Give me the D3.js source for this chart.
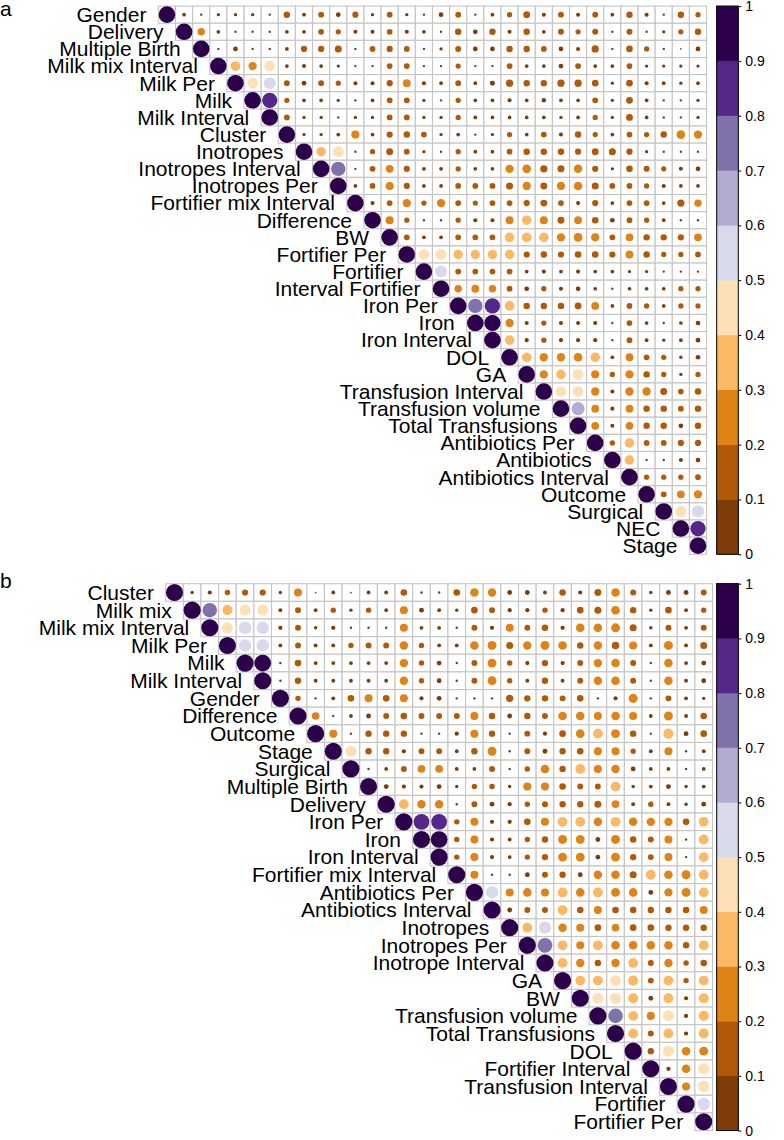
<!DOCTYPE html>
<html>
<head>
<meta charset="utf-8">
<title>Correlation plots</title>
<script src="https://cdnjs.cloudflare.com/ajax/libs/d3/7.8.5/d3.min.js"></script>
<style>
  body { margin: 0; background: #fff; }
  text { font-family: "Liberation Sans", Arial, Helvetica, sans-serif; fill: #000; }
</style>
</head>
<body>
<div id="chart"></div>
<script>
// variables of panel a, in plotted order
var varsA = ["Gender", "Delivery", "Multiple Birth", "Milk mix Interval", "Milk Per", "Milk",
  "Milk Interval", "Cluster", "Inotropes", "Inotropes Interval", "Inotropes Per",
  "Fortifier mix Interval", "Difference", "BW", "Fortifier Per", "Fortifier",
  "Interval Fortifier", "Iron Per", "Iron", "Iron Interval", "DOL", "GA",
  "Transfusion Interval", "Transfusion volume", "Total Transfusions", "Antibiotics Per",
  "Antibiotics", "Antibiotics Interval", "Outcome", "Surgical", "NEC", "Stage"];

// upper triangle of panel a: row i holds |r| for columns i+1 .. end (diagonal = 1)
var corrA = [
  [0.05, 0.02, 0.04, 0.04, 0.04, 0.02, 0.15, 0.05, 0.12, 0.08, 0.14, 0.04, 0.12, 0.04, 0.02, 0.08, 0.12, 0.02, 0.05, 0.10, 0.17, 0.06, 0.12, 0.06, 0.12, 0.05, 0.15, 0.06, 0.02, 0.15, 0.10],
  [0.20, 0.05, 0.02, 0.02, 0.02, 0.05, 0.05, 0.12, 0.10, 0.06, 0.06, 0.12, 0.06, 0.05, 0.02, 0.15, 0.08, 0.15, 0.06, 0.15, 0.05, 0.13, 0.10, 0.13, 0.02, 0.13, 0.02, 0.04, 0.10, 0.15],
  [0.02, 0.08, 0.02, 0.02, 0.05, 0.14, 0.14, 0.18, 0.02, 0.12, 0.14, 0.12, 0.02, 0.04, 0.13, 0.08, 0.08, 0.15, 0.15, 0.12, 0.08, 0.06, 0.19, 0.02, 0.16, 0.10, 0.02, 0.01, 0.08],
  [0.35, 0.25, 0.42, 0.05, 0.06, 0.05, 0.04, 0.02, 0.02, 0.12, 0.12, 0.02, 0.02, 0.10, 0.02, 0.02, 0.12, 0.05, 0.05, 0.08, 0.12, 0.05, 0.05, 0.12, 0.04, 0.04, 0.04, 0.04],
  [0.42, 0.53, 0.12, 0.08, 0.12, 0.10, 0.06, 0.06, 0.14, 0.22, 0.06, 0.05, 0.12, 0.05, 0.09, 0.19, 0.15, 0.15, 0.19, 0.19, 0.16, 0.04, 0.16, 0.06, 0.05, 0.04, 0.05],
  [0.85, 0.10, 0.05, 0.05, 0.04, 0.02, 0.05, 0.12, 0.12, 0.04, 0.02, 0.10, 0.05, 0.05, 0.06, 0.05, 0.07, 0.05, 0.05, 0.12, 0.04, 0.17, 0.05, 0.02, 0.02, 0.04],
  [0.12, 0.04, 0.04, 0.02, 0.04, 0.04, 0.12, 0.12, 0.04, 0.04, 0.10, 0.05, 0.05, 0.05, 0.05, 0.05, 0.04, 0.05, 0.10, 0.04, 0.17, 0.05, 0.02, 0.02, 0.04],
  [0.04, 0.04, 0.05, 0.24, 0.05, 0.14, 0.15, 0.12, 0.04, 0.05, 0.02, 0.04, 0.10, 0.05, 0.12, 0.06, 0.15, 0.10, 0.05, 0.12, 0.10, 0.15, 0.27, 0.25],
  [0.33, 0.42, 0.02, 0.10, 0.17, 0.12, 0.04, 0.02, 0.10, 0.05, 0.05, 0.12, 0.15, 0.15, 0.15, 0.14, 0.17, 0.18, 0.14, 0.04, 0.02, 0.02, 0.02],
  [0.75, 0.02, 0.12, 0.22, 0.14, 0.05, 0.05, 0.10, 0.05, 0.05, 0.25, 0.27, 0.19, 0.18, 0.26, 0.14, 0.04, 0.16, 0.13, 0.10, 0.06, 0.08],
  [0.05, 0.12, 0.24, 0.14, 0.05, 0.05, 0.12, 0.12, 0.12, 0.18, 0.25, 0.17, 0.25, 0.27, 0.18, 0.12, 0.12, 0.10, 0.06, 0.05, 0.05],
  [0.06, 0.12, 0.25, 0.10, 0.25, 0.12, 0.10, 0.12, 0.12, 0.14, 0.17, 0.12, 0.06, 0.14, 0.05, 0.12, 0.12, 0.05, 0.19, 0.20],
  [0.24, 0.10, 0.02, 0.02, 0.10, 0.06, 0.06, 0.23, 0.33, 0.23, 0.17, 0.22, 0.16, 0.08, 0.12, 0.10, 0.05, 0.02, 0.02],
  [0.12, 0.05, 0.05, 0.12, 0.12, 0.12, 0.33, 0.35, 0.33, 0.25, 0.27, 0.24, 0.12, 0.22, 0.15, 0.15, 0.14, 0.22],
  [0.42, 0.42, 0.32, 0.32, 0.32, 0.32, 0.14, 0.15, 0.14, 0.16, 0.16, 0.14, 0.22, 0.15, 0.10, 0.10, 0.12],
  [0.52, 0.12, 0.12, 0.12, 0.12, 0.05, 0.06, 0.05, 0.06, 0.05, 0.05, 0.04, 0.04, 0.02, 0.02, 0.02],
  [0.20, 0.22, 0.20, 0.12, 0.08, 0.10, 0.06, 0.08, 0.05, 0.02, 0.05, 0.05, 0.05, 0.10, 0.10],
  [0.75, 0.85, 0.35, 0.15, 0.15, 0.15, 0.17, 0.22, 0.05, 0.12, 0.10, 0.05, 0.10, 0.10],
  [0.95, 0.25, 0.06, 0.10, 0.06, 0.06, 0.06, 0.02, 0.12, 0.05, 0.02, 0.05, 0.08],
  [0.33, 0.06, 0.10, 0.06, 0.06, 0.06, 0.02, 0.12, 0.05, 0.04, 0.05, 0.08],
  [0.33, 0.25, 0.25, 0.27, 0.33, 0.05, 0.22, 0.12, 0.10, 0.04, 0.08],
  [0.25, 0.33, 0.42, 0.25, 0.10, 0.25, 0.15, 0.10, 0.04, 0.10],
  [0.42, 0.42, 0.25, 0.06, 0.25, 0.25, 0.17, 0.12, 0.15],
  [0.62, 0.22, 0.06, 0.22, 0.15, 0.15, 0.12, 0.15],
  [0.22, 0.06, 0.22, 0.15, 0.15, 0.08, 0.15],
  [0.10, 0.33, 0.12, 0.12, 0.14, 0.14],
  [0.33, 0.02, 0.02, 0.06, 0.08],
  [0.10, 0.10, 0.10, 0.12],
  [0.12, 0.22, 0.25],
  [0.45, 0.55],
  [0.85],
  []
];

// variables of panel b, in plotted order
var varsB = ["Cluster", "Milk mix", "Milk mix Interval", "Milk Per", "Milk", "Milk Interval",
  "Gender", "Difference", "Outcome", "Stage", "Surgical", "Multiple Birth", "Delivery",
  "Iron Per", "Iron", "Iron Interval", "Fortifier mix Interval", "Antibiotics Per",
  "Antibiotics Interval", "Inotropes", "Inotropes Per", "Inotrope Interval", "GA", "BW",
  "Transfusion volume", "Total Transfusions", "DOL", "Fortifier Interval",
  "Transfusion Interval", "Fortifier", "Fortifier Per"];

var corrB = [
  [0.04, 0.06, 0.10, 0.13, 0.13, 0.04, 0.22, 0.01, 0.05, 0.01, 0.05, 0.05, 0.15, 0.02, 0.02, 0.15, 0.25, 0.24, 0.08, 0.08, 0.05, 0.15, 0.06, 0.16, 0.25, 0.12, 0.04, 0.08, 0.08, 0.12],
  [0.72, 0.35, 0.42, 0.42, 0.05, 0.12, 0.05, 0.10, 0.04, 0.10, 0.05, 0.22, 0.08, 0.05, 0.04, 0.15, 0.12, 0.06, 0.06, 0.10, 0.06, 0.15, 0.17, 0.25, 0.14, 0.04, 0.15, 0.05, 0.10],
  [0.42, 0.53, 0.53, 0.06, 0.12, 0.04, 0.06, 0.02, 0.02, 0.02, 0.22, 0.05, 0.05, 0.02, 0.12, 0.06, 0.22, 0.12, 0.15, 0.06, 0.25, 0.25, 0.27, 0.17, 0.04, 0.12, 0.05, 0.12],
  [0.53, 0.53, 0.05, 0.12, 0.05, 0.05, 0.10, 0.12, 0.12, 0.25, 0.10, 0.05, 0.05, 0.25, 0.27, 0.17, 0.24, 0.27, 0.25, 0.14, 0.24, 0.19, 0.22, 0.05, 0.27, 0.05, 0.17],
  [0.95, 0.02, 0.15, 0.05, 0.05, 0.05, 0.05, 0.05, 0.24, 0.10, 0.08, 0.02, 0.12, 0.27, 0.10, 0.06, 0.14, 0.06, 0.12, 0.24, 0.25, 0.12, 0.02, 0.25, 0.05, 0.08],
  [0.02, 0.14, 0.05, 0.05, 0.05, 0.05, 0.05, 0.24, 0.10, 0.08, 0.02, 0.12, 0.27, 0.10, 0.05, 0.14, 0.05, 0.12, 0.24, 0.25, 0.12, 0.02, 0.25, 0.05, 0.08],
  [0.10, 0.02, 0.05, 0.15, 0.22, 0.15, 0.22, 0.06, 0.08, 0.02, 0.02, 0.02, 0.18, 0.14, 0.14, 0.12, 0.15, 0.02, 0.06, 0.28, 0.02, 0.12, 0.05, 0.04],
  [0.20, 0.02, 0.05, 0.08, 0.12, 0.15, 0.12, 0.12, 0.12, 0.22, 0.15, 0.08, 0.14, 0.12, 0.25, 0.25, 0.22, 0.25, 0.22, 0.05, 0.27, 0.05, 0.15],
  [0.22, 0.02, 0.14, 0.14, 0.14, 0.02, 0.02, 0.06, 0.22, 0.14, 0.02, 0.12, 0.06, 0.15, 0.25, 0.33, 0.27, 0.14, 0.02, 0.35, 0.08, 0.15],
  [0.42, 0.14, 0.14, 0.06, 0.12, 0.12, 0.05, 0.14, 0.27, 0.02, 0.12, 0.08, 0.14, 0.15, 0.22, 0.22, 0.10, 0.05, 0.22, 0.02, 0.05],
  [0.02, 0.05, 0.12, 0.20, 0.20, 0.05, 0.05, 0.12, 0.02, 0.10, 0.25, 0.14, 0.33, 0.22, 0.24, 0.08, 0.05, 0.05, 0.02, 0.05],
  [0.08, 0.06, 0.06, 0.08, 0.04, 0.10, 0.10, 0.04, 0.22, 0.22, 0.15, 0.12, 0.12, 0.33, 0.04, 0.05, 0.08, 0.04, 0.05],
  [0.33, 0.24, 0.24, 0.02, 0.12, 0.08, 0.06, 0.10, 0.12, 0.14, 0.14, 0.17, 0.20, 0.05, 0.10, 0.05, 0.04, 0.08],
  [0.85, 0.85, 0.10, 0.22, 0.06, 0.06, 0.15, 0.22, 0.33, 0.33, 0.25, 0.33, 0.25, 0.24, 0.24, 0.15, 0.33],
  [0.95, 0.10, 0.22, 0.06, 0.05, 0.10, 0.14, 0.27, 0.27, 0.08, 0.27, 0.14, 0.12, 0.22, 0.02, 0.33],
  [0.10, 0.22, 0.06, 0.05, 0.10, 0.14, 0.27, 0.27, 0.08, 0.27, 0.14, 0.12, 0.22, 0.02, 0.33],
  [0.22, 0.02, 0.02, 0.08, 0.12, 0.14, 0.08, 0.25, 0.25, 0.17, 0.33, 0.25, 0.27, 0.33],
  [0.52, 0.22, 0.25, 0.22, 0.33, 0.25, 0.33, 0.27, 0.25, 0.08, 0.24, 0.27, 0.33],
  [0.08, 0.12, 0.12, 0.33, 0.15, 0.22, 0.15, 0.14, 0.14, 0.14, 0.15, 0.22],
  [0.33, 0.52, 0.25, 0.22, 0.15, 0.20, 0.15, 0.15, 0.14, 0.14, 0.14],
  [0.75, 0.33, 0.22, 0.33, 0.25, 0.25, 0.25, 0.25, 0.14, 0.33],
  [0.33, 0.24, 0.14, 0.24, 0.33, 0.12, 0.24, 0.10, 0.15],
  [0.33, 0.33, 0.42, 0.35, 0.12, 0.33, 0.10, 0.33],
  [0.42, 0.42, 0.35, 0.08, 0.33, 0.06, 0.35],
  [0.72, 0.33, 0.22, 0.42, 0.06, 0.35],
  [0.33, 0.12, 0.33, 0.06, 0.35],
  [0.14, 0.42, 0.25, 0.27],
  [0.06, 0.25, 0.45],
  [0.22, 0.45],
  [0.55],
  []
];

// colour key
var legendTicks = [0, 0.1, 0.2, 0.3, 0.4, 0.5, 0.6, 0.7, 0.8, 0.9, 1];
var legendLabels = ["0", "0.1", "0.2", "0.3", "0.4", "0.5", "0.6", "0.7", "0.8", "0.9", "1"];
var palette = ["#7f3b08", "#b35806", "#e08214", "#fdb863", "#fee0b6",
               "#d8daeb", "#b2abd2", "#8073ac", "#542788", "#2d004b"];

var width = 784, height = 1140;

var svg = d3.select("#chart").append("svg")
    .attr("width", width)
    .attr("height", height);

var color = d3.scaleQuantize().domain([0, 1]).range(palette);

drawPanel({ letter: "a", vars: varsA, rows: corrA, left: 158.4, top: 6.1, step: 17.13, letterY: 16 });
drawPanel({ letter: "b", vars: varsB, rows: corrB, left: 165.7, top: 583.7, step: 17.64, letterY: 588 });

function drawPanel(p) {
    var n = p.vars.length;
    var g = svg.append("g");

    var x = d3.scaleBand().domain(p.vars).range([p.left, p.left + n * p.step]);
    var y = d3.scaleBand().domain(p.vars).range([p.top, p.top + n * p.step]);
    var bw = x.bandwidth();

    var cells = [];
    p.vars.forEach(function(rowName, i) {
        p.vars.forEach(function(colName, j) {
            if (j < i) return;
            cells.push({ row: rowName, col: colName, value: j === i ? 1 : p.rows[i][j - i - 1] });
        });
    });

    g.selectAll(".cell")
        .data(cells)
      .enter().append("rect")
        .attr("class", "cell")
        .attr("x", function(d) { return x(d.col); })
        .attr("y", function(d) { return y(d.row); })
        .attr("width", bw)
        .attr("height", bw)
        .style("fill", "#fff")
        .style("stroke", "#c4c4c4")
        .style("stroke-width", 1.1);

    g.selectAll(".dot")
        .data(cells)
      .enter().append("circle")
        .attr("class", "dot")
        .attr("cx", function(d) { return x(d.col) + bw / 2; })
        .attr("cy", function(d) { return y(d.row) + bw / 2; })
        .attr("r", function(d) { return 0.485 * bw * Math.sqrt(d.value); })
        .style("fill", function(d) { return color(d.value); });

    // names sit just left of their diagonal cell
    g.selectAll(".lab")
        .data(p.vars)
      .enter().append("text")
        .attr("class", "lab")
        .attr("x", function(d) { return x(d) + bw / 2 - 20.5; })
        .attr("y", function(d) { return y(d) + bw / 2; })
        .attr("dy", "0.35em")
        .attr("text-anchor", "end")
        .style("font-size", "21px")
        .text(function(d) { return d; });

    svg.append("text")
        .attr("x", 0)
        .attr("y", p.letterY)
        .style("font-size", "21px")
        .text(p.letter);

    // colour bar
    var ly = d3.scaleLinear().domain([0, 1]).range([p.top + n * p.step, p.top]);
    var lx = 716.7, lw = 21.6;
    var key = svg.append("g");
    key.selectAll(".bin")
        .data(palette)
      .enter().append("rect")
        .attr("class", "bin")
        .attr("x", lx)
        .attr("y", function(c, i) { return ly((i + 1) / 10); })
        .attr("width", lw)
        .attr("height", function(c, i) { return ly(i / 10) - ly((i + 1) / 10); })
        .style("fill", function(c) { return c; })
        .style("stroke", function(c) { return c; })
        .style("stroke-width", 0.5);
    key.append("rect")
        .attr("x", lx)
        .attr("y", ly(1))
        .attr("width", lw)
        .attr("height", ly(0) - ly(1))
        .style("fill", "none")
        .style("stroke", "#000")
        .style("stroke-width", 1);

    var axis = d3.axisRight(ly)
        .tickValues(legendTicks)
        .tickSize(3)
        .tickPadding(4)
        .tickFormat(function(d, i) { return legendLabels[i]; });
    var ax = key.append("g")
        .attr("transform", "translate(" + (lx + lw) + ",0)")
        .call(axis);
    ax.select(".domain").remove();
    ax.selectAll("text")
        .style("font-size", "14px")
        .style("font-family", "'Liberation Sans', Arial, sans-serif")
        .attr("fill", "#000");
    ax.selectAll("line").attr("stroke", "#000");
}
</script>
</body>
</html>
